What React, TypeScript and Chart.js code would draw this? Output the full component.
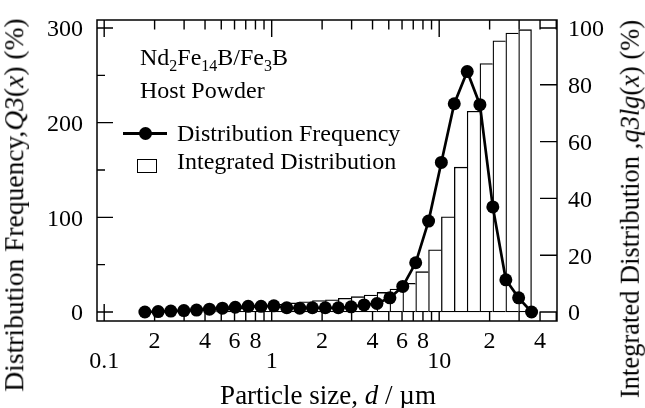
import React, { useEffect, useRef } from 'react';
import { Chart, registerables } from 'chart.js';

Chart.register(...registerables);

// Particle-size bin edges (µm): the frequency points sit on these edges,
// the integrated-distribution bars span from one edge to the next.
const edgeSizes = [
  0.175, 0.210, 0.250, 0.299, 0.356, 0.425, 0.508, 0.606, 0.724, 0.864,
  1.03, 1.23, 1.47, 1.75, 2.09, 2.50, 2.98, 3.56, 4.25, 5.08,
  6.06, 7.24, 8.64, 10.3, 12.3, 14.7, 17.5, 20.9, 25.0, 29.8, 35.6,
];

// Distribution frequency (left axis, %), one value per edge
const frequency = [
  0, 0.5, 1, 1.5, 2, 3, 4, 5, 6, 6,
  6.5, 4.5, 4, 4.5, 4.5, 4.5, 5.5, 7.5, 9, 15,
  27, 52, 96, 158, 220, 254, 219, 111, 34, 15, 0,
];

// Integrated distribution (right axis, %), one value per bin
const integrated = [
  0.1, 0.1, 0.2, 0.3, 0.5, 0.7, 1.0, 1.4, 1.8, 2.2,
  2.7, 3.2, 3.6, 4.0, 4.3, 4.8, 5.4, 6.0, 6.9, 8.1,
  10.1, 14.2, 21.9, 33.5, 51.0, 70.7, 87.5, 95.5, 98.2, 99.4,
];

const xTickValues = [0.1, 0.2, 0.4, 0.6, 0.8, 1, 2, 4, 6, 8, 10, 20, 40];
const xTickLabels = ['0.1', '2', '4', '6', '8', '1', '2', '4', '6', '8', '10', '2', '4'];
const xDecades = [0.1, 1, 10];
const xMinorTicks = [
  0.2, 0.3, 0.4, 0.5, 0.6, 0.7, 0.8, 0.9,
  2, 3, 4, 5, 6, 7, 8, 9,
  20, 30, 40, 50,
];
const leftTicks = [0, 100, 200, 300];
const leftMinorTicks = [50, 150, 250];
const rightTicks = [0, 20, 40, 60, 80, 100];

const SERIF = "'Liberation Serif', 'Times New Roman', Times, serif";

const frameTicksPlugin = {
  id: 'frameTicks',
  beforeDatasetsDraw(chart: any) {
    const { ctx, chartArea: a, scales } = chart;
    const sx = scales.x;
    const sy = scales.y;
    const sy2 = scales.y2;
    ctx.save();
    ctx.strokeStyle = '#000';
    ctx.lineWidth = 1.4;
    ctx.beginPath();
    const xs = [...xDecades, ...xMinorTicks];
    xs.forEach((v) => {
      const px = sx.getPixelForValue(v);
      if (px < a.left - 0.5 || px > a.right + 0.5) return;
      const len = xDecades.includes(v) ? 17 : 9.5;
      ctx.moveTo(px, a.bottom);
      ctx.lineTo(px, a.bottom - len);
      ctx.moveTo(px, a.top);
      ctx.lineTo(px, a.top + len);
    });
    leftTicks.forEach((v) => {
      const py = sy.getPixelForValue(v);
      ctx.moveTo(a.left, py);
      ctx.lineTo(a.left + 16, py);
    });
    leftMinorTicks.forEach((v) => {
      const py = sy.getPixelForValue(v);
      ctx.moveTo(a.left, py);
      ctx.lineTo(a.left + 8, py);
    });
    rightTicks.forEach((v) => {
      const py = sy2.getPixelForValue(v);
      ctx.moveTo(a.right, py);
      ctx.lineTo(a.right - 17, py);
    });
    ctx.stroke();
    ctx.lineWidth = 1.5;
    ctx.strokeRect(a.left, a.top, a.right - a.left, a.bottom - a.top);
    ctx.restore();
  },
};

export default function App() {
  const canvasRef = useRef<HTMLCanvasElement | null>(null);

  useEffect(() => {
    const canvas = canvasRef.current;
    if (!canvas) return;
    const lastBar = integrated.length - 1;
    const chart = new Chart(canvas, {
      type: 'bar',
      data: {
        datasets: [
          {
            type: 'line',
            label: 'Distribution Frequency',
            data: edgeSizes.map((x, i) => ({ x, y: frequency[i] })),
            xAxisID: 'x',
            yAxisID: 'y',
            borderColor: '#000',
            borderWidth: 2.7,
            pointRadius: 6.5,
            pointBackgroundColor: '#000',
            pointBorderWidth: 0,
            tension: 0,
            order: 0,
          } as any,
          {
            type: 'bar',
            label: 'Integrated Distribution',
            data: integrated.map((v, i) => ({
              x: Math.sqrt(edgeSizes[i] * edgeSizes[i + 1]),
              y: v,
            })),
            xAxisID: 'x',
            yAxisID: 'y2',
            backgroundColor: '#fff',
            borderColor: '#000',
            borderWidth: (c: any) => ({
              top: 1.3,
              bottom: 1.3,
              left: 1.3,
              right: c.dataIndex === lastBar ? 1.3 : 0,
            }),
            borderSkipped: false,
            barPercentage: 1,
            categoryPercentage: 1,
            order: 1,
          } as any,
        ],
      },
      options: {
        responsive: false,
        animation: false,
        events: [],
        devicePixelRatio: 1,
        layout: { padding: { top: 20, left: 0, right: 0, bottom: 0 } },
        plugins: {
          legend: { display: false },
          tooltip: { enabled: false },
        },
        scales: {
          x: {
            type: 'logarithmic',
            position: 'bottom',
            min: 0.0906,
            max: 50.5,
            grid: { display: false, drawTicks: false, tickLength: 0 },
            border: { display: false },
            afterBuildTicks: (s: any) => {
              s.ticks = xTickValues.map((v) => ({ value: v }));
            },
            afterFit: (s: any) => {
              s.height = 87;
              s.paddingLeft = 0;
              s.paddingRight = 0;
            },
            ticks: {
              autoSkip: false,
              maxRotation: 0,
              minRotation: 0,
              padding: 11,
              color: '#000',
              font: { family: SERIF, size: 24, lineHeight: 20 / 24 },
              callback: (_v: any, i: number) =>
                xDecades.includes(xTickValues[i]) ? ['', xTickLabels[i]] : [xTickLabels[i]],
            },
          },
          y: {
            type: 'linear',
            position: 'left',
            min: -9.5,
            max: 308.45,
            grid: { display: false, drawTicks: false, tickLength: 0 },
            border: { display: false },
            afterBuildTicks: (s: any) => {
              s.ticks = leftTicks.map((v) => ({ value: v }));
            },
            afterFit: (s: any) => {
              s.width = 97;
              s.paddingTop = 0;
              s.paddingBottom = 0;
            },
            ticks: {
              padding: 14,
              labelOffset: 2,
              color: '#000',
              font: { family: SERIF, size: 24 },
              callback: (v: any) => String(v),
            },
          },
          y2: {
            type: 'linear',
            position: 'right',
            min: -9.5 / 3,
            max: 308.45 / 3,
            grid: { display: false, drawTicks: false, tickLength: 0 },
            border: { display: false },
            afterBuildTicks: (s: any) => {
              s.ticks = rightTicks.map((v) => ({ value: v }));
            },
            afterFit: (s: any) => {
              s.width = 88;
              s.paddingTop = 0;
              s.paddingBottom = 0;
            },
            ticks: {
              padding: 11,
              labelOffset: 2,
              color: '#000',
              font: { family: SERIF, size: 24 },
              callback: (v: any) => String(v),
            },
          },
        },
      },
      plugins: [frameTicksPlugin],
    } as any);
    return () => chart.destroy();
  }, []);

  const txt: React.CSSProperties = {
    position: 'absolute',
    fontFamily: SERIF,
    fontSize: 24,
    lineHeight: '24px',
    color: '#000',
    whiteSpace: 'nowrap',
  };
  const sub: React.CSSProperties = { fontSize: 16, position: 'relative', top: 6 };
  const title = (size: number): React.CSSProperties => ({
    position: 'absolute',
    fontFamily: SERIF,
    fontSize: size,
    lineHeight: `${size}px`,
    color: '#000',
    whiteSpace: 'nowrap',
  });

  return (
    <div
      style={{
        position: 'fixed',
        left: 0,
        top: 0,
        width: 645,
        height: 408,
        background: '#fff',
        overflow: 'hidden',
      }}
    >
      <canvas
        ref={canvasRef}
        width={645}
        height={408}
        style={{ position: 'absolute', left: 0, top: 0, width: 645, height: 408 }}
      />
      <div style={{ ...txt, left: 140, top: 45 }}>
        Nd<span style={sub}>2</span>Fe<span style={sub}>14</span>B/Fe<span style={sub}>3</span>B
      </div>
      <div style={{ ...txt, left: 140, top: 78 }}>Host Powder</div>
      <div style={{ position: 'absolute', left: 123, top: 132, width: 44, height: 2.7, background: '#000' }} />
      <div
        style={{
          position: 'absolute',
          left: 139,
          top: 126.5,
          width: 13,
          height: 13,
          borderRadius: '50%',
          background: '#000',
        }}
      />
      <div style={{ ...txt, left: 177, top: 121 }}>Distribution Frequency</div>
      <div
        style={{
          position: 'absolute',
          left: 137,
          top: 159,
          width: 18,
          height: 12,
          border: '1.3px solid #000',
          background: '#fff',
        }}
      />
      <div style={{ ...txt, left: 177, top: 149 }}>Integrated Distribution</div>
      <div style={{ ...title(27), left: 328, top: 395, transform: 'translate(-50%, -50%)' }}>
        Particle size, <i>d</i> / µm
      </div>
      <div
        style={{
          ...title(27.5),
          left: 14,
          top: 205,
          transform: 'translate(-50%, -50%) rotate(-90deg)',
        }}
      >
        Distribution Frequency,<i>Q3</i>(<i>x</i>) (%)
      </div>
      <div
        style={{
          ...title(26.5),
          left: 629.5,
          top: 209,
          transform: 'translate(-50%, -50%) rotate(-90deg)',
        }}
      >
        Integrated Distribution ,<i>q3lg</i>(<i>x</i>) (%)
      </div>
    </div>
  );
}
